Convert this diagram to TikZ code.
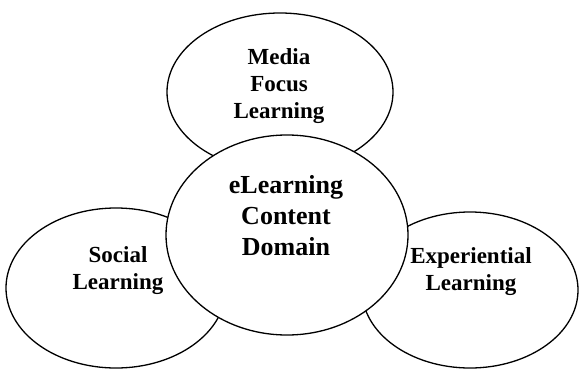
\documentclass[tikz,border=0pt]{standalone}
\usepackage{fontspec}
\setmainfont{Liberation Serif}
\usetikzlibrary{shapes.geometric}
\tikzset{
  bubble/.style={ellipse, draw=black, fill=white, line width=1.3pt, inner sep=0pt, outer sep=0pt},
  lbl/.style={align=center, inner sep=0pt, font=\bfseries\fontsize{23}{27}\selectfont},
  biglbl/.style={align=center, inner sep=0pt, font=\bfseries\fontsize{26}{31}\selectfont}
}
\begin{document}
\begin{tikzpicture}[x=1pt,y=1pt]
\useasboundingbox (0,0) rectangle (580,-369);
\node[bubble, minimum width=226pt, minimum height=158pt] (top) at (280,-92) {};
\node[bubble, minimum width=220pt, minimum height=160pt] (left) at (116,-288) {};
\node[bubble, minimum width=216pt, minimum height=156pt] (right) at (470,-290) {};
\node[bubble, minimum width=242pt, minimum height=200pt] (centre) at (287,-235) {};
\node[lbl] (toptext) at (279,-86) {Media\\Focus\\Learning};
\node[lbl] (lefttext) at (118,-271) {Social\\Learning};
\node[lbl] (righttext) at (471,-272) {Experiential\\Learning};
\node[biglbl] (centretext) at (286,-215.5) {eLearning\\Content\\Domain};
\end{tikzpicture}
\end{document}
